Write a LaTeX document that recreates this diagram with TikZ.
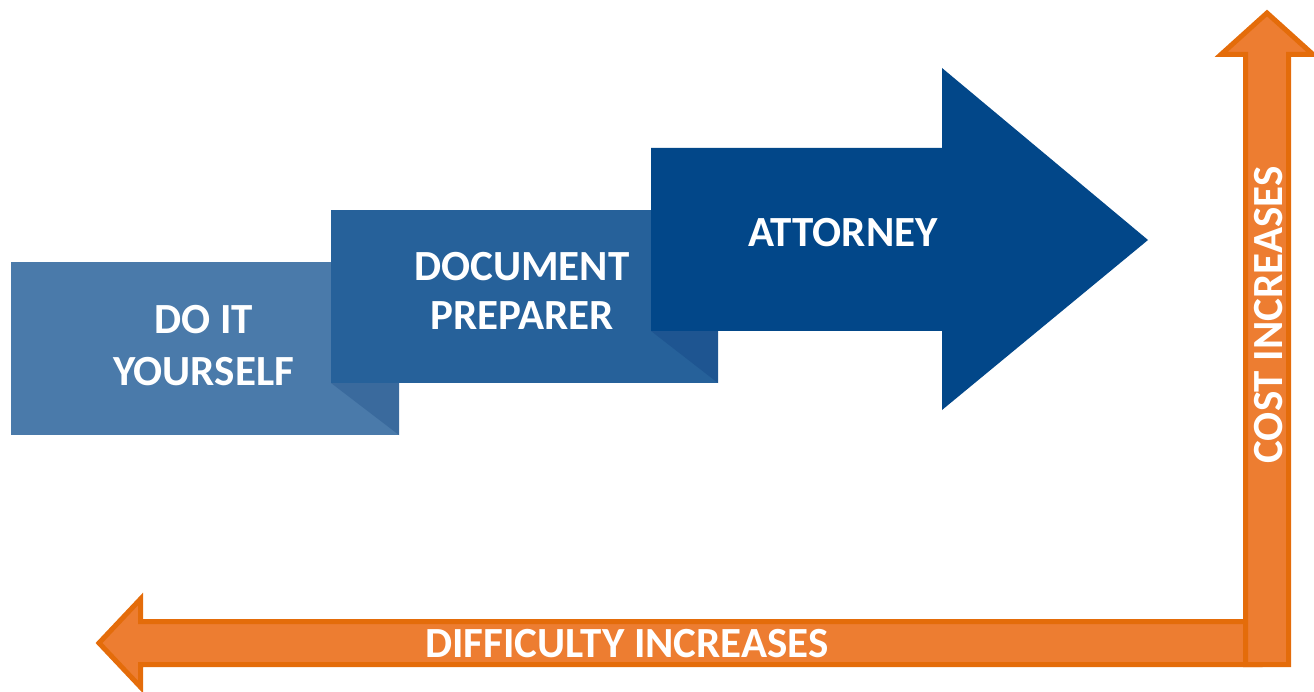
\documentclass[tikz,border=0pt]{standalone}
\usepackage{fontspec}
\setmainfont{Carlito}
\definecolor{diy}{RGB}{74,122,170}
\definecolor{diyfold}{RGB}{58,106,157}
\definecolor{dp}{RGB}{38,97,154}
\definecolor{dpfold}{RGB}{30,85,145}
\definecolor{att}{RGB}{2,71,137}
\definecolor{orfill}{RGB}{237,125,49}
\definecolor{orline}{RGB}{228,108,10}
\begin{document}
\begin{tikzpicture}[x=1pt,y=-1pt,
  lbl/.style={text=white,font=\bfseries\fontsize{43}{52}\selectfont,align=center,inner sep=0pt},
  oarrow/.style={fill=orfill,draw=orline,line width=5pt,line join=miter}]
\useasboundingbox (0,0) rectangle (1314,692);
% Do it yourself
\fill[diy] (11,262) rectangle (399,435);
\fill[diyfold] (331,383) -- (399,383) -- (399,435) -- cycle;
% Document preparer
\fill[dp] (331,210) rectangle (718,383);
\fill[dpfold] (651,331) -- (718,331) -- (718,383) -- cycle;
% Attorney arrow
\fill[att] (651,148) -- (942,148) -- (942,68) -- (1148,240) -- (942,410) -- (942,331) -- (651,331) -- cycle;
% orange arrows
\draw[oarrow] (1260,621.5) -- (140.5,621.5) -- (140.5,599) -- (99,643) -- (140.5,687) -- (140.5,664.5) -- (1260,664.5) -- cycle;
\draw[oarrow] (1245.5,664.5) -- (1245.5,54.5) -- (1221,54.5) -- (1267,13) -- (1313,54.5) -- (1288.5,54.5) -- (1288.5,664.5) -- cycle;
% labels
\node[lbl,anchor=base] (diyl) at (203.5,385) {DO IT\\YOURSELF};
\node[lbl,anchor=base,font=\bfseries\fontsize{43}{49}\selectfont] (dpl) at (522,330) {DOCUMENT\\PREPARER};
\node[lbl,anchor=base] (attl) at (843,247) {ATTORNEY};
\node[lbl,anchor=base] (diff) at (627,657) {DIFFICULTY INCREASES};
\node[lbl,rotate=90] (cost) at (1269,315) {COST INCREASES};
\end{tikzpicture}
\end{document}
